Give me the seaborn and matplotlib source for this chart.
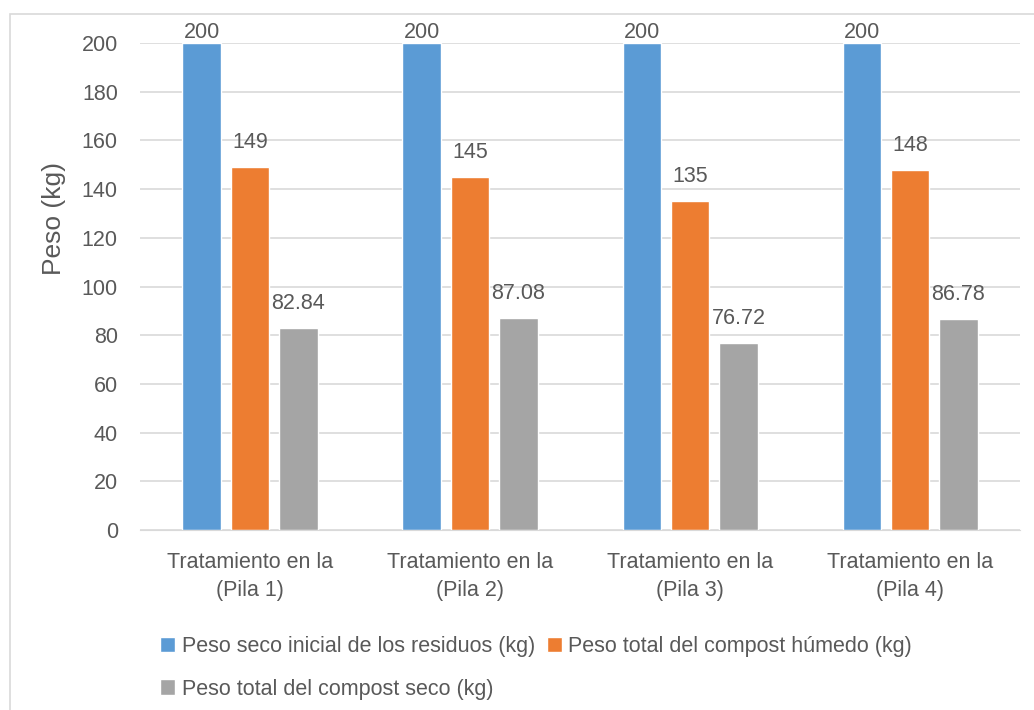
import seaborn as sns
import pandas as pd
import matplotlib.pyplot as plt
from matplotlib.patches import Rectangle

categories = ['Tratamiento en la\n(Pila 1)', 'Tratamiento en la\n(Pila 2)',
              'Tratamiento en la\n(Pila 3)', 'Tratamiento en la\n(Pila 4)']
series = ['Peso seco inicial de los residuos (kg)',
          'Peso total del compost húmedo (kg)',
          'Peso total del compost seco (kg)']
peso_inicial = [200, 200, 200, 200]
peso_humedo = [149, 145, 135, 148]
peso_seco = [82.84, 87.08, 76.72, 86.78]
labels_seco = ['82.84', '87.08', '76.72', '86.78']

colors = ['#5B9BD5', '#ED7D31', '#A5A5A5']
txt = '#595959'

rows = []
for s, vals in zip(series, [peso_inicial, peso_humedo, peso_seco]):
    for c, v in zip(categories, vals):
        rows.append({'cat': c, 'serie': s, 'peso': v})
df = pd.DataFrame(rows)

sns.set_style('white')
plt.rcParams['font.family'] = ['Liberation Sans', 'DejaVu Sans']

fig = plt.figure(figsize=(10.34, 7.1), dpi=100)
ax = fig.add_axes([0.1354, 0.2535, 0.8511, 0.6859])

sns.barplot(data=df, x='cat', y='peso', hue='serie', palette=colors,
            saturation=1, width=0.66, gap=0.21, ax=ax, legend=True)

ax.set_ylim(0, 200)
ax.set_xlim(-0.5, 3.5)
ax.set_yticks(range(0, 201, 20))
ax.yaxis.grid(True, color='#D9D9D9', lw=1.2)
ax.set_axisbelow(True)
for sp in ['top', 'right', 'left']:
    ax.spines[sp].set_visible(False)
ax.spines['bottom'].set_color('#D9D9D9')
ax.tick_params(axis='both', length=0, labelsize=15.5, colors=txt)
ax.tick_params(axis='y', pad=16)
ax.tick_params(axis='x', pad=15.5)
for t in ax.get_xticklabels():
    t.set_linespacing(1.45)
ax.set_xlabel('')
ax.set_ylabel('Peso (kg)', fontsize=19, color=txt)
ax.yaxis.set_label_coords(-0.084, 0.639)

all_labels = [[str(v) for v in peso_inicial], [str(v) for v in peso_humedo], labels_seco]
for cont, labs in zip(ax.containers, all_labels):
    for bar, lab, v in zip(cont, labs, cont.datavalues):
        off = 0 if v >= 200 else 10
        ax.annotate(lab, (bar.get_x() + bar.get_width() / 2, v),
                    xytext=(0, off), textcoords='offset points',
                    ha='center', va='bottom', fontsize=15.5, color=txt,
                    annotation_clip=False)

h, l = ax.get_legend_handles_labels()
ax.legend([h[0], h[2], h[1]], [l[0], l[2], l[1]], ncol=2,
          loc='upper left', bbox_to_anchor=(160 / 1034, 1 - 636 / 710),
          bbox_transform=fig.transFigure, frameon=False, fontsize=15.5,
          labelcolor=txt, handlelength=0.7, handleheight=0.7,
          handletextpad=0.3, columnspacing=0.55, labelspacing=1.0,
          borderpad=0, borderaxespad=0)

fig.patches.append(Rectangle((10 / 1034, -0.05), 1.1, 1.05 - 14 / 710,
                             transform=fig.transFigure, fill=False,
                             edgecolor='#D9D9D9', lw=1.2, zorder=0))

fig.savefig('out.png', dpi=100)
